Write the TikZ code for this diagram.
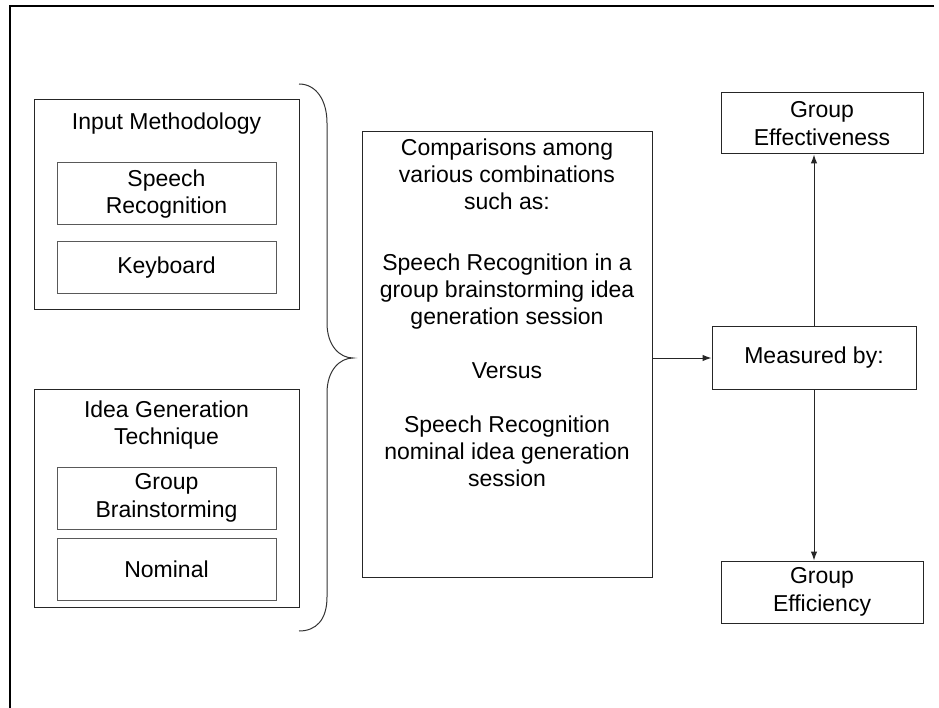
\documentclass[tikz,border=0pt]{standalone}
\usepackage{fontspec}
\setmainfont{Liberation Sans}
\usetikzlibrary{arrows.meta}
\begin{document}
\begin{tikzpicture}[x=1pt,y=-1pt,
  every node/.style={font=\fontsize{23}{27.5}\selectfont, align=center, inner sep=0pt},
  outerbox/.style={draw=black!85, line width=1pt},
  innerbox/.style={draw=black!65, line width=1pt},
  conn/.style={draw=black!85, line width=1pt, -{Latex[length=9pt,width=6.5pt]}},
  bracepath/.style={draw=black!80, line width=1pt},
  framepath/.style={draw=black, line width=2.2pt}]
\useasboundingbox (0,0) rectangle (939,708);

% page frame (top and left edges)
\coordinate (fr1) at (934,6);
\coordinate (fr2) at (10,6);
\coordinate (fr3) at (10,708);
\draw[framepath] (fr1) -- (fr2) -- (fr3);

% input methodology group
\node[outerbox, minimum width=265pt, minimum height=210pt] (im) at (166.5,205) {};
\node (imt) at (166.5,124) {Input Methodology};
\node[innerbox, minimum width=219pt, minimum height=62pt] (sr) at (166.5,194) {Speech\\Recognition};
\node[innerbox, minimum width=219pt, minimum height=52pt] (kb) at (166.5,268) {Keyboard};

% idea generation group
\node[outerbox, minimum width=265pt, minimum height=218pt] (ig) at (166.5,498) {};
\node (igt) at (166.5,425) {Idea Generation\\Technique};
\node[innerbox, minimum width=219pt, minimum height=62pt] (gb) at (166.5,498) {Group\\Brainstorming};
\node[innerbox, minimum width=219pt, minimum height=62pt] (nom) at (166.5,569) {Nominal};

% brace grouping both factors
\draw[bracepath] (299,84) .. controls (316,84) and (327,100) .. (327,123)
  -- (327,323) .. controls (327,346) and (340,358) .. (353,358)
  .. controls (340,358) and (327,370) .. (327,393)
  -- (327,597) .. controls (327,620) and (316,631) .. (299,631);

% comparison box
\node[outerbox, minimum width=290pt, minimum height=445pt] (cmp) at (507,354.5) {};
\node[anchor=north, font=\fontsize{23}{27}\selectfont] (cmpt) at (507,139) {%
  Comparisons among\\various combinations\\such as:\\[34pt]
  Speech Recognition in a\\group brainstorming idea\\generation session\\[27pt]
  Versus\\[27pt]
  Speech Recognition\\nominal idea generation\\session};

% measures
\node[outerbox, minimum width=204pt, minimum height=62pt] (meas) at (814,358) {Measured by:};
\node[outerbox, minimum width=202pt, minimum height=61pt] (eff) at (822,123.5) {Group\\Effectiveness};
\node[outerbox, minimum width=202pt, minimum height=62pt] (efc) at (822,592) {Group\\Efficiency};

% connectors
\draw[conn] (cmp.east |- meas.west) -- (meas.west);
\draw[conn] (meas.north) -- (meas.north |- eff.south);
\draw[conn] (meas.south) -- (meas.south |- efc.north);
\end{tikzpicture}
\end{document}
